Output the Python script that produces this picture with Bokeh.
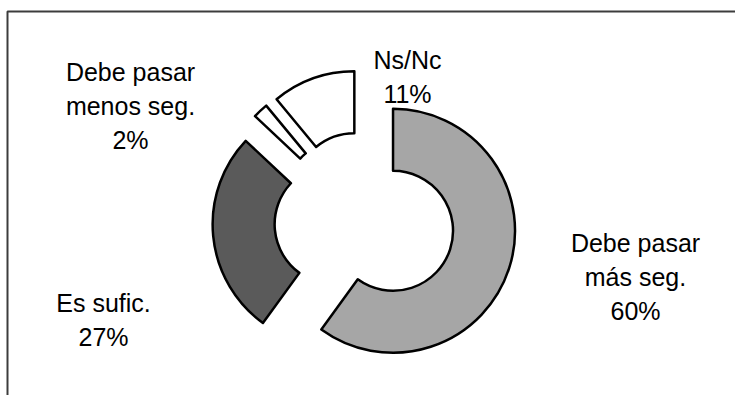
import math

from bokeh.core.properties import value
from bokeh.embed import file_html
from bokeh.models import ColumnDataSource, Range1d
from bokeh.plotting import figure
from bokeh.resources import INLINE

# Survey answers and their shares (percent)
labels = [["Debe pasar", "más seg."], ["Es sufic."], ["Debe pasar", "menos seg."], ["Ns/Nc"]]
shares = [60, 27, 2, 11]
colors = ["#a6a6a6", "#5a5a5a", "#ffffff", "#ffffff"]

# Layout (pixels, y measured from the top of the page)
W, H = 735, 395
center = (364, 221)
outer_r, inner_r = 122, 60
explode = 30
label_pos = [(635, 242), (103, 302), (130, 71), (407, 59)]
line_gap = 34

p = figure(width=W, height=H, x_range=Range1d(0, W), y_range=Range1d(0, H),
           min_border=0, toolbar_location=None, output_backend="svg",
           x_axis_location=None, y_axis_location=None)
p.grid.visible = False
p.outline_line_color = None
p.background_fill_color = "white"

# Frame around the chart area
p.quad(left=7, right=W + 20, top=H - 11, bottom=-20,
       fill_color=None, line_color="#3c3c3c", line_width=2)

# Wedges go clockwise from twelve o'clock, each pushed out along its middle
total = sum(shares)
xs, ys, starts, ends = [], [], [], []
acc = 0.0
for s in shares:
    a0 = acc / total * 360.0
    a1 = (acc + s) / total * 360.0
    mid = math.radians((a0 + a1) / 2)
    xs.append(center[0] + explode * math.sin(mid))
    ys.append(H - (center[1] - explode * math.cos(mid)))
    starts.append(math.radians(90 - a1))
    ends.append(math.radians(90 - a0))
    acc += s

src = ColumnDataSource(dict(x=xs, y=ys, start=starts, end=ends, color=colors))
p.annular_wedge(x="x", y="y", inner_radius=inner_r, outer_radius=outer_r,
                start_angle="start", end_angle="end", direction="anticlock",
                fill_color="color", line_color="black", line_width=2.5,
                line_join="round", source=src)

# Category labels with their percentages
tx, ty, tt = [], [], []
for lines, s, (lx, ly) in zip(labels, shares, label_pos):
    for i, t in enumerate(lines + [f"{s}%"]):
        tx.append(lx)
        ty.append(H - (ly + i * line_gap))
        tt.append(t)

p.text(x=tx, y=ty, text=tt, text_font=value("Liberation Sans"),
       text_font_size="25px", text_align="center", text_baseline="alphabetic",
       text_color="#000000")

open("out.html", "w").write(file_html(p, INLINE))
